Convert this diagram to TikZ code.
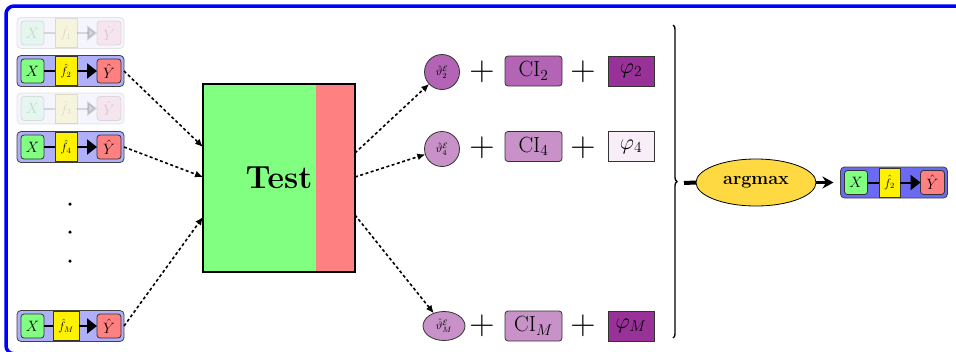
\documentclass[tikz,border=0pt]{standalone}
\RequirePackage{fix-cm}
\usetikzlibrary{arrows.meta,calc,shapes.geometric,decorations.pathreplacing}
\definecolor{xgreen}{HTML}{80FF80}
\definecolor{yred}{HTML}{FF8080}
\definecolor{fyellow}{HTML}{FFF200}
\definecolor{lblue}{HTML}{B0B0FA}
\definecolor{finblue}{HTML}{6A6AF2}
\definecolor{pdark}{HTML}{B464B4}
\definecolor{plight}{HTML}{C891C8}
\definecolor{phideep}{HTML}{983298}
\definecolor{phipale}{HTML}{F8EEF8}
\definecolor{gold}{HTML}{FFD942}
\newcommand\fs[1]{\fontsize{#1}{#1}\selectfont}
\tikzset{
  every node/.style={inner sep=0pt, outer sep=0pt},
  outerbox/.style={draw=black!75, line width=0.8, rounded corners=4, minimum width=107, minimum height=31},
  xbox/.style={draw=black!80, line width=0.8, rounded corners=3, fill=xgreen, minimum width=23, minimum height=24, font=\fs{15}},
  ybox/.style={draw=black!80, line width=0.8, rounded corners=3, fill=yred, minimum width=24, minimum height=24, font=\fs{15}},
  fbox/.style={draw=black!80, line width=0.8, fill=fyellow, minimum height=29, font=\fs{12}},
  dasharrow/.style={line width=1.6, dash pattern=on 3 off 2.5, -{Latex[length=8,width=7]}},
  testbox/.style={draw, line width=1.8, fill=xgreen, minimum width=152, minimum height=188, font=\fs{32}\bfseries,
    path picture={\fill[yred] ($(path picture bounding box.north east)+(-39,0)$) rectangle (path picture bounding box.south east);}},
  thetanode/.style={draw=black!80, line width=0.8, circle, minimum size=35, font=\fs{11}},
  cibox/.style={draw=black!80, line width=0.8, rounded corners=3, minimum width=57, minimum height=30, font=\fs{22}},
  phibox/.style={draw=black!80, line width=0.8, minimum width=46, minimum height=30, font=\fs{22}},
  plusnode/.style={font=\fs{35}},
  dotnode/.style={circle, fill=black, minimum size=3.5},
}
\newcommand\mrow[7]{%
\begin{scope}[shift={(#2,#3)}, opacity=#6]
\node[outerbox, fill=#5] (#1) at (0,0) {};
\node[xbox] (#1x) at (-38,0) {$X$};
\node[fbox, minimum width=#7] (#1f) at (-4.5,0) {$\hat f_{#4}$};
\node[ybox] (#1y) at (38.5,0) {$\hat Y$};
\draw[line width=2] (#1x) -- (#1f);
\draw[line width=2, -{Triangle[length=10,width=15]}] (#1f) -- (#1y);
\end{scope}}
\begin{document}
\begin{tikzpicture}[x=1pt, y=-1pt]
\useasboundingbox (0,0) rectangle (956,351);
\draw[blue, line width=3.5, rounded corners=8] (6,6) rectangle (964,353.8);
% model rows
\mrow{m1}{70.5}{33}{1}{lblue}{0.13}{22}
\mrow{m2}{70.5}{71}{2}{lblue}{1}{22}
\mrow{m3}{70.5}{108.5}{3}{lblue}{0.13}{22}
\mrow{m4}{70.5}{147}{4}{lblue}{1}{22}
\mrow{mM}{70.5}{326}{M}{lblue}{1}{26}
\node[dotnode] (d1) at (70,204) {};
\node[dotnode] (d2) at (70,232) {};
\node[dotnode] (d3) at (70,261) {};
% test
\node[testbox] (test) at (279,178) {Test};
\draw[dasharrow] (m2.east) -- ($(test.west)+(0,-31)$);
\draw[dasharrow] (m4.east) -- ($(test.west)+(0,-1)$);
\draw[dasharrow] (mM.east) -- ($(test.west)+(0,39)$);
% right side rows
\node[thetanode, fill=pdark] (t2) at (442,72) {$\hat\vartheta^{\mathcal{E}}_{2}$};
\node[thetanode, fill=plight] (t4) at (442,149) {$\hat\vartheta^{\mathcal{E}}_{4}$};
\node[thetanode, ellipse, fill=plight, minimum width=42, minimum height=29] (tM) at (444,326) {$\hat\vartheta^{\mathcal{E}}_{M}$};
\draw[dasharrow] ($(test.east)+(0,-25)$) -- (t2);
\draw[dasharrow] ($(test.east)+(0,-1)$) -- (t4);
\draw[dasharrow] ($(test.east)+(0,37)$) -- (tM);
\node[plusnode] (p21) at (482,72) {$+$};
\node[plusnode] (p41) at (482,147.5) {$+$};
\node[plusnode] (pM1) at (482,326) {$+$};
\node[cibox, fill=pdark] (c2) at (533.5,71) {$\mathrm{CI}_2$};
\node[cibox, fill=plight] (c4) at (533.5,146.5) {$\mathrm{CI}_4$};
\node[cibox, fill=plight] (cM) at (533.5,326) {$\mathrm{CI}_M$};
\node[plusnode] (p22) at (583,72) {$+$};
\node[plusnode] (p42) at (583,147.5) {$+$};
\node[plusnode] (pM2) at (583,326) {$+$};
\node[phibox, fill=phideep] (f2) at (631,71) {$\varphi_2$};
\node[phibox, fill=phipale] (f4) at (631,146.5) {$\varphi_4$};
\node[phibox, fill=phideep] (fM) at (631,326) {$\varphi_M$};
% brace
\draw[decorate, decoration={brace, amplitude=4}, line width=1.4] (673,25) -- (673,338);
\coordinate (bt) at (684,183);
\node[ellipse, draw, line width=0.8, fill=gold, minimum width=120, minimum height=47, font=\fs{18}\bfseries] (am) at (756,182.5) {argmax};
\draw[line width=4] (bt) -- (am.west);
\mrow{fin}{894}{182.5}{2}{finblue}{1}{21}
\draw[line width=3, -{Stealth[length=11,width=12]}, shorten >=7] (am) -- (fin);
\end{tikzpicture}
\end{document}
